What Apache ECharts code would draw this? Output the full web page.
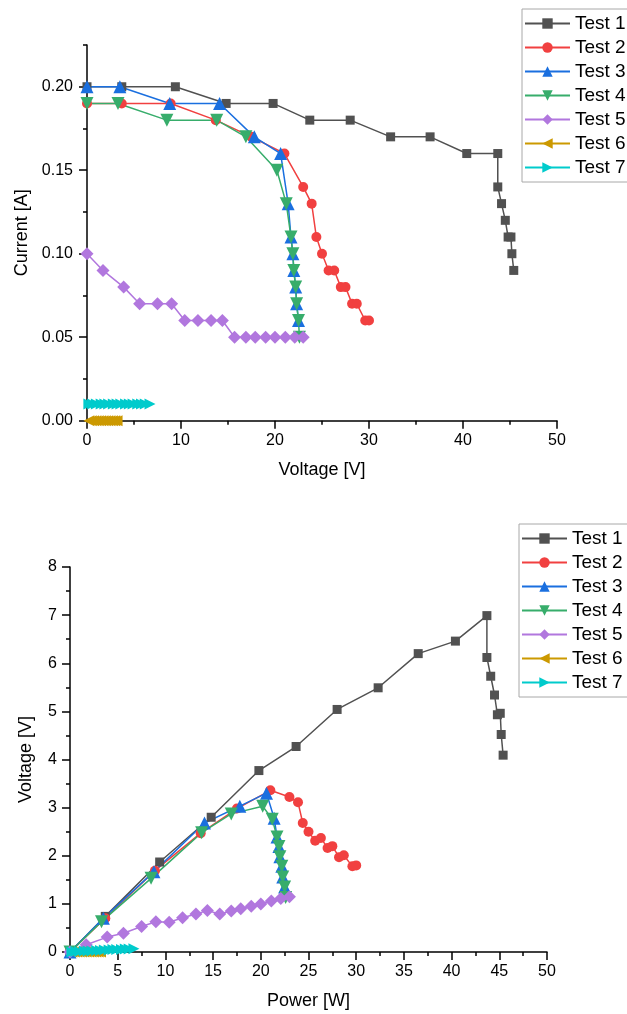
<!DOCTYPE html>
<html>
<head>
<meta charset="utf-8">
<script src="https://cdn.jsdelivr.net/npm/echarts@6/dist/echarts.min.js"></script>
<style>
html,body{margin:0;padding:0;background:#fff;}
#c{width:627px;height:1014px;}
</style>
</head>
<body>
<div id="c"></div>
<script>
// ---------- data ----------
const names = ['Test 1','Test 2','Test 3','Test 4','Test 5','Test 6','Test 7'];

// Voltage [V] per test
const v1 = [0, 3.7, 9.4, 14.8, 19.8, 23.7, 28.0, 32.3, 36.5, 40.4, 43.7, 43.7, 44.1, 44.5, 44.8, 45.1, 45.2, 45.4];
const v2 = [0, 3.7, 8.9, 13.7, 17.5, 21.0, 23.0, 23.9, 24.4, 25.0, 25.7, 26.3, 27.0, 27.5, 28.2, 28.7, 29.6, 30.0];
const v3 = [0, 3.5, 8.8, 14.1, 17.8, 20.6, 21.4, 21.7, 21.9, 22.0, 22.2, 22.3, 22.5];
const v4 = [0, 3.3, 8.5, 13.8, 16.9, 20.2, 21.2, 21.7, 21.9, 22.0, 22.2, 22.3, 22.5, 22.6];
const v5 = [0, 1.7, 3.9, 5.6, 7.5, 9.0, 10.4, 11.8, 13.2, 14.4, 15.7, 16.9, 17.9, 19.0, 20.0, 21.1, 22.1, 23.0];
const v6 = [0.2, 0.45, 0.7, 0.95, 1.2, 1.45, 1.7, 1.95, 2.2, 2.45, 2.7, 2.95, 3.2];
const v7 = [0.2, 0.6, 1.0, 1.5, 1.9, 2.3, 2.8, 3.2, 3.6, 4.1, 4.5, 4.9, 5.4, 5.8, 6.2, 6.7];

// Current [A] per test
const i1 = [0.20, 0.20, 0.20, 0.19, 0.19, 0.18, 0.18, 0.17, 0.17, 0.16, 0.16, 0.14, 0.13, 0.12, 0.11, 0.11, 0.10, 0.09];
const i2 = [0.19, 0.19, 0.19, 0.18, 0.17, 0.16, 0.14, 0.13, 0.11, 0.10, 0.09, 0.09, 0.08, 0.08, 0.07, 0.07, 0.06, 0.06];
const i3 = [0.20, 0.20, 0.19, 0.19, 0.17, 0.16, 0.13, 0.11, 0.10, 0.09, 0.08, 0.07, 0.06];
const i4 = [0.19, 0.19, 0.18, 0.18, 0.17, 0.15, 0.13, 0.11, 0.10, 0.09, 0.08, 0.07, 0.06, 0.05];
const i5 = [0.10, 0.09, 0.08, 0.07, 0.07, 0.07, 0.06, 0.06, 0.06, 0.06, 0.05, 0.05, 0.05, 0.05, 0.05, 0.05, 0.05, 0.05];
const i6 = [0.00, 0.00, 0.00, 0.00, 0.00, 0.00, 0.00, 0.00, 0.00, 0.00, 0.00, 0.00, 0.00];
const i7 = [0.01, 0.01, 0.01, 0.01, 0.01, 0.01, 0.01, 0.01, 0.01, 0.01, 0.01, 0.01, 0.01, 0.01, 0.01, 0.01];

// Power [W] per test (lower chart values)
const p1 = [0, 0.74, 1.87, 2.80, 3.77, 4.27, 5.04, 5.49, 6.20, 6.46, 6.99, 6.12, 5.73, 5.34, 4.93, 4.96, 4.52, 4.09];
const p2 = [0, 0.70, 1.69, 2.47, 2.98, 3.36, 3.22, 3.11, 2.68, 2.50, 2.31, 2.37, 2.16, 2.20, 1.97, 2.01, 1.78, 1.80];
const p3 = [0, 0.70, 1.67, 2.68, 3.03, 3.30, 2.78, 2.39, 2.19, 1.98, 1.78, 1.56, 1.35];
const p4 = [0, 0.63, 1.53, 2.48, 2.87, 3.03, 2.76, 2.39, 2.19, 1.98, 1.78, 1.56, 1.35, 1.13];
const p5 = [0, 0.15, 0.31, 0.39, 0.53, 0.63, 0.62, 0.71, 0.79, 0.86, 0.79, 0.85, 0.90, 0.95, 1.00, 1.06, 1.11, 1.15];
const p6 = [0.00, 0.00, 0.00, 0.00, 0.00, 0.00, 0.00, 0.00, 0.00, 0.00, 0.00, 0.00, 0.00];
const p7 = [0.00, 0.01, 0.01, 0.02, 0.02, 0.02, 0.03, 0.03, 0.04, 0.04, 0.05, 0.05, 0.05, 0.06, 0.06, 0.07];

const yTicksTop = [0, 0.05, 0.10, 0.15, 0.20];
const yMinorTop = [0.025, 0.075, 0.125, 0.175, 0.225];

// ---------- styling ----------
const colors = ['#515151','#F14040','#1A6FDF','#37AD6B','#B177DE','#CC9900','#00CBCC'];
const symbols = ['rect','circle','triangle','triangle','diamond','triangle','triangle'];
const sizes = [9, 10, 13, 13, 13, 11, 11];
const rotates = [0, 0, 0, 180, 0, 90, -90];
const FONT = "'Liberation Sans', Arial, sans-serif";

const V = [v1,v2,v3,v4,v5,v6,v7];
const I = [i1,i2,i3,i4,i5,i6,i7];
const P = [p1,p2,p3,p4,p5,p6,p7];

function pairs(xs, ys){ return xs.map((x,k)=>[x, ys[k]]); }

function mk(k, xi, yi, data){
  return {
    name: names[k], type:'line',
    symbol: symbols[k], symbolSize: sizes[k], symbolRotate: rotates[k],
    showAllSymbol: true,
    lineStyle:{color:colors[k], width:1.5},
    itemStyle:{color:colors[k], borderWidth:0},
    emphasis:{disabled:true},
    animation:false,
    xAxisIndex:xi, yAxisIndex:yi, data:data
  };
}
const series = [];
for (let k=0;k<7;k++) series.push(mk(k, 0, 0, pairs(V[k], I[k])));
for (let k=0;k<7;k++) series.push(mk(k, 1, 2, pairs(V[k], P[k])));

const axisLine = {show:true, onZero:false, lineStyle:{color:'#000', width:1.5}};
const lbl = {color:'#000', fontSize:16, fontFamily:FONT};
const nameStyle = {color:'#000', fontSize:18, fontFamily:FONT};

const legendBase = {
  orient:'vertical', itemWidth:45, itemHeight:13, itemGap:5,
  padding:[5,60,5,2], borderColor:'#a8a8a8', borderWidth:1,
  textStyle:{color:'#000', fontSize:19, fontFamily:FONT}, data:names,
  selectedMode:false
};

const option = {
  animation:false,
  backgroundColor:'#fff',
  legend:[
    Object.assign({}, legendBase, {left:522, top:9}),
    Object.assign({}, legendBase, {left:519, top:524})
  ],
  grid:[
    {left:87, top:45, width:470, height:375.7},
    {left:70, top:567, width:477, height:385}
  ],
  xAxis:[
    {type:'value', gridIndex:0, min:0, max:50, interval:10,
     axisLine:axisLine, splitLine:{show:false},
     axisTick:{show:true, length:8, lineStyle:{color:'#000', width:1.5}},
     minorTick:{show:true, splitNumber:2, length:4, lineStyle:{color:'#000', width:1.5}},
     axisLabel:Object.assign({margin:12}, lbl),
     name:'Voltage [V]', nameLocation:'middle', nameGap:40, nameTextStyle:nameStyle},
    {type:'value', gridIndex:1, min:0, max:50, interval:5,
     axisLine:axisLine, splitLine:{show:false},
     axisTick:{show:true, length:8, lineStyle:{color:'#000', width:1.5}},
     minorTick:{show:true, splitNumber:2, length:4, lineStyle:{color:'#000', width:1.5}},
     axisLabel:Object.assign({margin:12}, lbl),
     name:'Power [W]', nameLocation:'middle', nameGap:40, nameTextStyle:nameStyle}
  ],
  yAxis:[
    {type:'value', gridIndex:0, position:'left', min:0, max:0.225, interval:0.05,
     axisLine:axisLine, splitLine:{show:false},
     axisTick:{show:true, length:8, customValues:yTicksTop, lineStyle:{color:'#000', width:1.5}},
     axisLabel:Object.assign({margin:14, customValues:yTicksTop, formatter:(v)=>v.toFixed(2)}, lbl),
     name:'Current [A]', nameLocation:'middle', nameGap:45, nameRotate:90, nameTextStyle:nameStyle},
    {type:'value', gridIndex:0, position:'left', offset:0, min:0, max:0.225, interval:0.025,
     axisLine:{show:false}, splitLine:{show:false}, axisLabel:{show:false},
     axisTick:{show:true, length:4, customValues:yMinorTop, lineStyle:{color:'#000', width:1.5}}},
    {type:'value', gridIndex:1, position:'left', min:0, max:8, interval:1,
     axisLine:axisLine, splitLine:{show:false},
     axisTick:{show:true, length:8, lineStyle:{color:'#000', width:1.5}},
     minorTick:{show:true, splitNumber:2, length:4, lineStyle:{color:'#000', width:1.5}},
     axisLabel:Object.assign({margin:13}, lbl),
     name:'Voltage [V]', nameLocation:'middle', nameGap:35, nameRotate:90, nameTextStyle:nameStyle}
  ],
  series:series
};

const chart = echarts.init(document.getElementById('c'), null, {renderer:'canvas'});
chart.setOption(option);
</script>
</body>
</html>
